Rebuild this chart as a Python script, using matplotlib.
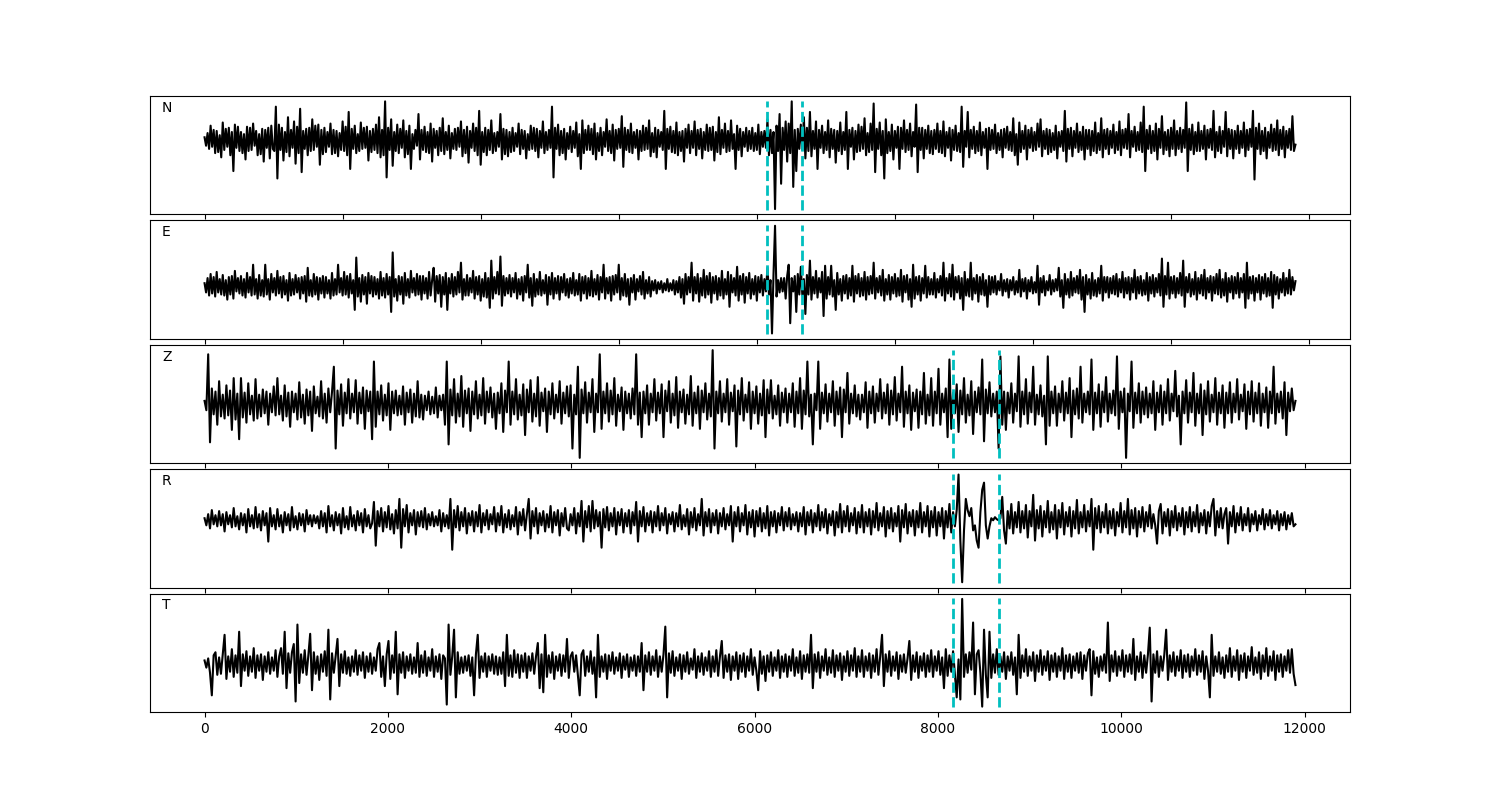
import numpy as np
import matplotlib
matplotlib.use("Agg")
import matplotlib.pyplot as plt

# channel names and record lengths (samples)
channels = ["N", "E", "Z", "R", "T"]
npts = [15800, 15800, 11900, 11900, 11900]

# picked arrivals (sample index)
picks_ne = [8150, 8655]
picks_zrt = [8160, 8665]

# traces (decimated, arbitrary amplitude units)
n_trace = [
    3, -5, 7, -8, 14, -6, 10, -12, 9, -11, 5, -16, 17, -9, 11, -6, 12, -14, 8, -29, 15, -7, 13, -10, 8, -12, 6, -18, 13, -10, 12, -9, 16, -5, 9, -14, 6, -13, 11, -20,
    10, -7, 12, -17, 14, -8, -10, 32, -36, 15, -9, 12, -19, 8, -11, 22, -15, 10, -7, 18, -22, 13, -12, 30, -30, 9, -8, 11, -14, 12, -10, 20, -9, 14, -6, 15, -23, 10, -13, 12,
    -11, 8, -6, 16, -13, 10, -12, 9, -15, 7, -9, 18, -10, 13, -14, 27, -27, 11, -8, 14, -12, 6, -10, 17, -8, 12, -7, 13, -19, 9, -11, 11, -9, 15, -12, 22, -16, 10, -14, 37,
    -35, 12, -9, 20, -24, 8, -10, 15, -12, 11, -7, 19, -16, 9, -13, 14, -27, 6, -8, 10, -5, 25, -18, 10, -9, 13, -11, 8, -12, 16, -20, 11, -7, 9, -14, 12, -10, 21, -13, 8,
    -9, 14, -17, 7, -8, 11, -9, 12, -6, 18, -15, 10, -12, 13, -21, 9, -7, 16, -10, 12, -14, 28, -23, 8, -11, 12, -14, 10, -9, 19, -12, 7, -10, 8, -6, 25, -18, 11, -13, 10,
    -15, 8, -11, 12, -10, 7, -6, 16, -13, 10, -8, 9, -17, 6, -9, 14, -8, 12, -10, 11, -16, 9, -7, 18, -12, 8, -9, 10, -7, 32, -35, 12, -8, 15, -14, 9, -12, 11, -18, 7,
    -8, 13, -11, 9, -7, 17, -15, 6, -27, 19, -12, 10, -9, 14, -9, 11, -13, 16, -18, 7, -10, 12, -14, 8, -6, 20, -10, 9, -12, 15, -19, 10, -8, 11, -7, 23, -25, 12, -9, 10,
    -11, 16, -12, 8, -7, 10, -18, 9, -10, 14, -9, 12, -8, 19, -15, 7, -11, 12, -16, 10, -6, 8, -9, 28, -27, 11, -8, 13, -11, 9, -12, 17, -14, 8, -10, 9, -20, 11, -7, 15,
    -12, 9, -7, 18, -14, 10, -8, 11, -17, 8, -9, 15, -10, 12, -9, 13, -19, 8, -11, 22, -13, 10, -7, 16, -11, 9, -10, 19, -8, 6, -27, 14, -9, 11, -15, 8, -6, 12, -10, 9,
    -8, 12, -10, 7, -9, 15, -13, 8, -6, 9, -7, 20, -14, 10, -12, 8, -65, 14, -10, 25, -41, 12, -9, 18, -20, 16, -12, 37, -44, 10, -29, 11, -8, 15, -9, 22, -17, 12, -10, 27,
    -15, 9, -8, 18, -27, 10, -7, 14, -12, 8, -9, 19, -16, 11, -8, 10, -21, 9, -10, 17, -13, 8, -9, 27, -27, 10, -6, 12, -18, 9, -11, 15, -10, 13, -8, 21, -14, 7, -11, 16,
    -9, 35, -30, 11, -8, 17, -14, 9, -36, 20, -12, 8, -10, 15, -18, 9, -7, 13, -27, 12, -8, 19, -11, 10, -9, 16, -15, 8, -6, 34, -30, 12, -9, 12, -17, 10, -8, 14, -12, 9,
    -13, 10, -8, 16, -11, 9, -12, 18, -15, 8, -7, 12, -19, 10, -9, 14, -10, 7, -11, 32, -25, 9, -6, 27, -16, 10, -8, 13, -12, 9, -10, 17, -14, 8, -7, 11, -27, 12, -9, 10,
    -8, 15, -12, 7, -9, 10, -16, 11, -7, 13, -9, 8, -10, 21, -14, 6, -23, 17, -11, 9, -8, 14, -18, 10, -7, 12, -10, 8, -9, 16, -6, 20, -15, 9, -8, 11, -13, 10, -11, 7,
    -9, 14, -17, 8, -6, 9, -10, 28, -20, 11, -8, 12, -15, 9, -7, 16, -11, 8, -9, 13, -18, 10, -8, 10, -14, 9, -10, 17, -12, 7, -9, 21, -16, 10, -8, 11, -13, 9, -7, 15,
    -12, 8, -9, 18, -14, 10, -7, 11, -8, 25, -16, 9, -6, 13, -10, 8, -9, 17, -11, 32, -29, 10, -8, 14, -12, 9, -10, 16, -18, 11, -7, 23, -13, 8, -9, 10, -15, 12, -8, 19,
    -14, 9, -8, 12, -11, 10, -7, 36, -29, 11, -9, 15, -13, 8, -10, 17, -10, 9, -8, 14, -18, 10, -7, 11, -9, 28, -16, 8, -10, 13, -12, 9, -6, 27, -15, 11, -8, 10, -17, 9,
    -8, 14, -12, 9, -7, 17, -15, 10, -9, 11, -6, 28, -37, 12, -8, 16, -13, 9, -10, 12, -17, 8, -7, 15, -10, 11, -9, 19, -14, 10, -8, 13, -16, 9, -7, 11, -9, 23, -10, -4,
]

e_trace = [
    3, -6, 8, -9, 12, -7, 9, -10, 14, -6, 7, -8, 11, -9, 6, -13, 9, -8, 10, -12, 15, -5, 8, -7, 10, -9, 7, -11, 13, -6, 9, -9, 21, -8, 7, -12, 11, -9, 6, -10,
    21, -8, 7, -13, 12, -6, 8, -9, 15, -7, 9, -11, 10, -8, 6, -14, 13, -9, 7, -8, 11, -6, 8, -12, 9, -7, 10, -15, 18, -9, 6, -10, 12, -8, 9, -13, 8, -7, 10, -11,
    9, -7, 6, -12, 13, -9, 7, -8, 21, -6, 8, -9, 14, -8, 10, -11, 12, -7, 6, -23, 28, -10, 8, -15, 11, -8, 9, -17, 13, -7, 10, -10, 9, -8, 7, -12, 14, -9, 8, -11,
    12, -8, 9, -25, 33, -10, 7, -14, 10, -8, 9, -17, 13, -9, 7, -11, 15, -6, 8, -9, 12, -8, 10, -13, 10, -7, 8, -12, 14, -9, 6, 18, -15, 10, -7, 11, -20, 9, -8, 13,
    -23, 8, -7, 12, -10, 9, -8, 14, -6, 23, -13, 7, -9, 11, -9, 8, -6, 15, -12, 9, -8, 10, -14, 7, -10, 13, -11, 8, -21, 25, -12, 9, -7, 14, -8, 29, -19, 10, -9, 8,
    -7, 11, -10, 8, -6, 13, -12, 7, -8, 9, -14, 10, -6, 21, -11, 8, -19, 12, -10, 7, -8, 14, -9, 6, -7, 11, -18, 9, -8, 13, -12, 8, -7, 10, -13, 9, -6, 12, -9, 7,
    -11, 8, -7, 13, -9, 6, -8, 12, -14, 9, -7, 10, -12, 8, -9, 15, -10, 7, -8, 11, -13, 9, -6, 21, -12, 8, -7, 9, -14, 10, -8, 11, -6, 21, -13, 8, -9, 12, -10, 7,
    -18, 8, -6, 11, -13, 7, -5, 10, -8, 14, -12, 6, -7, 9, -10, 5, -4, 6, -7, 4, -3, 5, -6, 3, -4, 7, -5, 3, -4, 6, -8, 5, -6, 9, -11, 7, -17, 12, -8, 9,
    -6, 23, -14, 9, -7, 12, -15, 8, -9, 16, -11, 10, -8, 13, -16, 9, -7, 10, -13, 8, -9, 15, -12, 7, -8, 14, -20, 11, -6, 8, -9, 19, -14, 10, -8, 12, -16, 9, -7, 13,
    -12, 7, -8, 10, -14, 9, -6, 11, -9, 7, -5, 18, -8, 6, -46, 12, 59, -10, 6, -6, 8, -5, 8, -12, 10, 21, -36, 8, -5, 10, -25, 12, -8, 19, -9, 7, -27, 11, -8, 25,
    -13, 9, -7, 15, -11, 8, -6, 14, -29, 20, -12, 9, -8, 20, -10, 6, -23, 13, -8, 7, -14, 10, -7, 11, -12, 8, -9, 20, -15, 10, -7, 12, -10, 8, -9, 14, -13, 9, -8, 10,
    -7, 23, -12, 8, -6, 10, -9, 16, -14, 7, -8, 11, -13, 9, -7, 12, -10, 8, -9, 16, -15, 10, -6, 11, -13, 7, -20, 21, -12, 9, -8, 10, -14, 8, -7, 20, -11, 9, -8, 7,
    -8, 13, -11, 7, -6, 10, -9, 23, -14, 8, -7, 12, -10, 21, -13, 9, -6, 10, -12, 8, -23, 14, -9, 7, -10, 23, -13, 8, -7, 11, -15, 9, -8, 12, -9, 6, -20, 10, -8, 9,
    -6, 10, -8, 5, -4, 12, -9, 6, -5, 7, -11, 6, -4, 9, -8, 5, -6, 16, -10, 7, -5, 8, -12, 6, -5, 9, -7, 4, -6, 20, -18, 8, -6, 10, -9, 5, -4, 11, -8, 6,
    -5, 7, -4, 18, -10, 6, -21, 12, -8, 7, -11, 14, -9, 8, -6, 10, -7, 16, -13, 9, -25, 11, -8, 7, -12, 13, -9, 6, -10, 8, -7, 20, -14, 9, -6, 9, -11, 8, -7, 10,
    -8, 12, -10, 7, -6, 14, -11, 8, -7, 9, -13, 8, -6, 16, -12, 9, -7, 10, -9, 6, -8, 13, -14, 9, -7, 11, -10, 8, -6, 12, -9, 27, -20, 10, -8, 23, -12, 9, -7, 10,
    -11, 8, -7, 13, -9, 25, -20, 9, -6, 12, -10, 7, -8, 14, -13, 8, -7, 11, -9, 16, -12, 8, -6, 10, -14, 9, -7, 12, -8, 16, -11, 7, -9, 13, -15, 8, -6, 10, -12, 9,
    -7, 13, -11, 8, -6, 12, -21, 23, -12, 9, -7, 10, -14, 8, -6, 11, -13, 9, -7, 12, -10, 8, -9, 14, -21, 11, -8, 9, -12, 7, -6, 13, -9, 8, -7, 16, -8, 9, -4, 5,
]

z_trace = [
    3, -6, 48, -37, 15, -10, 12, -20, 22, -12, 9, -14, 18, -11, 13, -25, 25, -15, 10, -34, 25, -13, 11, -18, 20, -10, 8, -16, 24, -14, 9, -12, 14, -9, 12, -20, 10, -8, 17, -11,
    25, -10, 8, -16, 18, -12, 11, -22, 12, -8, 10, -15, 21, -13, 9, -19, 14, -11, 12, -26, 17, -9, 7, -12, 22, -14, 10, -18, 15, -8, 12, 36, -43, 13, -10, 19, -21, 11, -9, 24,
    -14, 10, -8, 23, -19, 11, -9, 16, -24, 13, -7, 12, -34, 41, -22, 12, -10, 18, -16, 9, -11, 20, -25, 12, -9, 13, -11, 8, -10, 17, -20, 11, -8, 14, -18, 10, -12, 22, -13, 9,
    -15, 8, -6, 12, -10, 7, -9, 16, -13, 8, -6, 9, -20, 41, -39, 14, -11, 24, -18, 10, -12, 27, -22, 13, -9, 15, -26, 12, -10, 22, -14, 9, -11, 25, -19, 12, -8, 16, -13, 10,
    -24, 11, -9, 20, -27, 13, -8, 41, -20, 12, -10, 24, -15, 9, -11, 19, -30, 14, -8, 23, -17, 10, -12, 26, -21, 11, -7, 15, -27, 12, -10, 20, -14, 9, -8, 22, -19, 11, -9, 17,
    -12, 18, -43, 9, -10, 36, -52, 14, -9, 21, -18, 11, -8, 24, -27, 10, -8, 48, -24, 12, -9, 20, -17, 13, -10, 25, -21, 9, -7, 16, -25, 12, -9, 10, -14, 15, -10, 48, -20, 11,
    -32, 12, -9, 18, -20, 10, -8, 24, -16, 11, -9, 19, -32, 13, -7, 22, -18, 10, -11, 26, -23, 12, -8, 14, -19, 9, -10, 27, -21, 11, -9, 17, -24, 13, -8, 20, -15, 10, -12, 52,
    -43, 12, -9, 22, -17, 10, -8, 24, -20, 11, -7, 18, -41, 13, -10, 25, -16, 9, -8, 21, -24, 12, -9, 17, -19, 10, -11, 23, -32, 14, -9, 23, -14, 8, -10, 18, -21, 11, -8, 15,
    -18, 10, -8, 20, -22, 12, -9, 25, -24, 13, -10, 41, -12, 9, -39, 10, -6, 41, -24, 11, -9, 19, -17, 10, -8, 22, -21, 12, -10, 16, -32, 14, -8, 30, -19, 10, -9, 18, -12, 9,
    -15, 9, -8, 21, -23, 12, -9, 17, -18, 10, -7, 24, -14, 11, -9, 19, -20, 13, -10, 26, -16, 10, -8, 36, -22, 12, -9, 18, -25, 11, -7, 14, -23, 12, -10, 30, -19, 9, -11, 25,
    -21, 12, -9, 34, -20, 10, -8, 15, -32, 43, -24, 11, -9, 19, -27, 13, -10, 25, -18, 9, -11, 22, -29, 12, -8, 16, -10, 43, -36, 14, -9, 21, -12, 10, -8, 12, -43, 46, -20, 12,
    -25, 11, -9, 20, -18, 10, -7, 46, -22, 12, -10, 24, -19, 11, -8, 36, -20, 9, -10, 18, -12, 8, -39, 46, -21, 12, -9, 17, -21, 10, -8, 22, -16, 11, -9, 25, -32, 13, -10, 15,
    -14, 36, -18, 10, -8, 12, -10, 43, -25, 11, -9, 19, -22, 12, -8, 26, -17, 10, -9, 13, -11, 46, -24, 12, -8, 15, -52, 10, -7, 41, -23, 11, -9, 20, -18, 12, -10, 16, -13, 10,
    -9, 22, -25, 11, -8, 18, -20, 12, -9, 24, -16, 10, -7, 32, -12, 8, -39, 12, -9, 23, -18, 11, -8, 30, -21, 10, -9, 19, -30, 13, -10, 22, -17, 9, -8, 25, -20, 11, -9, 18,
    -23, 11, -9, 21, -18, 10, -8, 24, -15, 9, -7, 19, -24, 12, -10, 22, -17, 11, -9, 20, -21, 10, -8, 16, -23, 12, -9, 36, -19, 10, -8, 12, -14, 21, -30, 11, -7, 15, -6, 3,
]

r_trace = [
    2, -5, 6, -8, 10, -4, 5, -6, 9, -5, 6, -11, 8, -4, 5, -7, 12, -6, 4, -9, 7, -5, 6, -12, 11, -6, 5, -8, 13, -7, 6, -10, 9, -5, 7, -21, 12, -6, 5, -9,
    11, -6, 5, -12, 8, -5, 6, -10, 13, -7, 4, -9, 7, -5, 6, -11, 10, -4, 5, -6, 5, -3, 4, -8, 9, -6, 7, -12, 14, -6, 5, -10, 8, -5, 6, -13, 12, -7, 4, -9,
    13, -6, 5, -10, 9, -5, 7, -12, 11, -6, 5, -8, -3, 18, -25, 9, -6, 12, -11, 8, -7, 14, -9, 6, -13, 10, -8, 21, -27, 11, -6, 15, -12, 7, -5, 10, -14, 8, -6, 9,
    -7, 12, -9, 6, -5, 8, -6, 4, -5, 10, -11, 7, -6, 5, -8, 21, -29, 10, -7, 14, -10, 8, -6, 12, -13, 7, -5, 9, -11, 8, -6, 15, -12, 7, -5, 10, -9, 6, -4, 13,
    -11, 7, -5, 14, -12, 6, -7, 10, -9, 5, -6, 13, -14, 8, -5, 11, -10, 6, 21, -18, 9, -6, 12, -13, 7, -5, 9, -11, 6, -7, 14, -12, 8, -5, 10, -15, 7, -6, 12, -8,
    -10, 6, -5, 12, -13, 7, -6, 19, -21, 9, -7, 14, -11, 19, -8, 10, -6, 8, -27, 11, -7, 13, -10, 7, -6, 12, -14, 8, -5, 11, -12, 7, -6, 10, -13, 8, -5, 18, -21, 9,
    -6, 13, -11, 7, -5, 9, -12, 8, -6, 14, -10, 7, -5, 12, -13, 6, -4, 8, -11, 7, -6, 15, -9, 5, -6, 11, -14, 8, -7, 12, -10, 6, -5, 21, -15, 8, -6, 11, -12, 7,
    -5, 10, -13, 7, -6, 12, -9, 6, -5, 14, -21, 8, -6, 13, -11, 7, -5, 15, -14, 8, -7, 10, -16, 9, -6, 12, -11, 7, -8, 14, -15, 8, -6, 9, -12, 7, -5, 13, -10, 8,
    -6, 12, -9, 6, -5, 8, -11, 7, -6, 13, -14, 8, -5, 10, -12, 7, -6, 15, -10, 8, -7, 11, -13, 6, -5, 9, -15, 8, -7, 16, -12, 9, -6, 14, -11, 7, -5, 12, -13, 8,
    -7, 15, -12, 8, -6, 11, -14, 9, -7, 17, -10, 7, -6, 13, -16, 9, -8, 12, -11, 7, -6, 14, -21, 10, -7, 16, -13, 8, -6, 10, -15, 9, -7, 17, -12, 8, -6, 14, -16, 9,
    -7, 13, -15, 8, -6, 12, -18, 9, -7, 16, -12, 8, -6, 10, 45, -20, -61, -10, 21, 10, 4, 12, -10, -5, -20, -27, 8, 30, 37, -5, -18, -6, 2, 0, 3, 1, 0, 2, 23, -10,
    -23, 9, -8, 16, -13, 8, -7, 18, -12, 9, -8, 15, -17, 9, -6, 25, -20, 10, -8, 14, -16, 9, -7, 19, -12, 8, -9, 15, -18, 10, -7, 17, -14, 8, -6, 13, -16, 9, -8, 20,
    -13, 8, -7, 15, -11, 9, -6, 21, -29, 12, -8, 14, -12, 8, -7, 16, -13, 9, -8, 11, -15, 8, -6, 17, -12, 9, -7, 21, -14, 10, -8, 12, -16, 9, -7, 13, -11, 8, -6, 15,
    -8, 6, -5, -23, 9, 16, -13, 8, -6, 11, -15, 9, -7, 14, -10, 7, -6, 12, -14, 8, -7, 13, -11, 8, -6, 15, -12, 7, -5, 10, -13, 8, -6, 14, 21, -15, 9, -7, 12, -8,
    6, 12, -23, 8, -6, 14, -12, 7, -5, 13, -10, 6, -5, 12, -11, 6, -4, 9, -10, 5, -4, 11, -9, 6, -5, 10, -8, 5, -4, 9, -10, 6, -5, 8, -9, 5, -4, 7, -6, -4,
]

t_trace = [
    4, -3, 6, -8, -30, 9, 12, -10, 7, -9, 10, 29, -14, 8, -7, 15, -12, 9, -8, 32, -21, 10, -6, 13, -11, 8, -7, 16, -13, 9, -6, 10, -15, 8, -7, 12, -9, 7, -6, 14,
    -12, 8, 16, -9, 32, -23, 11, -8, 12, 20, -36, 39, -18, 10, -8, 14, -10, 9, 30, -25, 12, -9, 8, -15, 10, -7, 13, -11, 34, -34, 11, -8, 9, 25, -21, 10, -8, 13, -9, 7,
    -11, 8, -7, 14, -10, 9, -6, 12, -13, 8, -7, 11, -9, 7, -6, 15, 21, -12, 8, -21, 10, 23, -14, 9, -8, 32, -29, 10, -8, 12, -13, 8, -6, 10, -9, 7, -8, 21, -12, 9,
    -8, 13, -11, 7, -6, 15, -12, 8, -7, 10, -14, 9, 6, -39, 39, -10, 8, 34, -32, 12, -9, 7, -8, 8, -6, 9, -11, 7, -30, 10, 29, -13, 8, -7, 11, -12, 8, -6, 10, -9,
    8, -10, 7, -9, 12, -21, 29, -11, 9, -12, 14, -8, 10, -13, 9, -7, 11, -13, 8, -6, 11, -9, 8, 21, -23, 10, -27, 29, -12, 9, -8, 12, -14, 8, -6, 10, -11, 9, -7, 25,
    -13, 8, 12, -7, 9, -10, -30, 10, 14, -11, 8, -7, 13, -9, 7, -32, 29, -12, 8, -7, 10, -14, 9, -6, 12, -9, 7, -6, 11, -13, 8, -5, 10, -12, 7, -6, 9, -11, 8, -7,
    21, -25, 9, -7, 12, -10, 8, -6, 14, -12, 8, -7, 10, 37, -32, 11, -8, 13, -11, 7, -6, 10, -14, 9, -7, 12, -9, 6, -5, 15, -13, 8, -7, 11, -10, 7, -6, 13, -12, 8,
    -7, 14, -11, 8, 23, -13, 9, -7, 10, -15, 8, -6, 12, -14, 9, -7, 11, -12, 8, -6, 15, -10, 7, -6, -25, 13, -9, 8, -16, 9, -7, 12, -11, 7, -6, 14, -13, 8, -7, 10,
    -12, 8, -6, 15, -11, 7, -8, 13, -14, 9, -7, 10, -8, 29, -23, 10, -7, 12, -13, 8, -6, 15, -10, 7, -8, 14, -12, 9, -6, 11, -15, 8, -7, 13, -11, 9, -6, 16, -12, 8,
    -7, 14, -12, 8, -6, 11, -13, 9, -7, 15, -10, 8, 29, -21, 10, -7, 13, -11, 8, -6, 12, -14, 9, -7, 10, -8, 6, 23, -15, 9, -7, 12, -13, 8, -6, 11, -12, 9, -7, 14,
    -12, 8, -6, 13, -10, 7, -23, 15, -11, 9, -7, 13, -9, -32, 5, -34, 64, -12, 10, -8, 12, -5, 41, -29, 10, 14, -8, -41, 34, -10, -32, 32, -13, 10, -8, 15, -10, 8, -7, 12,
    -14, 8, -6, 12, -10, 7, -29, 29, -13, 9, -7, 15, -11, 8, -6, 12, -16, 9, -7, 14, -10, 8, -6, 13, -15, 9, -7, 11, -12, 8, -6, 16, -14, 9, -7, 10, -13, 8, -6, 11,
    -8, 12, -14, 9, -6, 11, 15, -30, 13, -9, 7, -12, 8, -6, 10, -8, 41, -16, 9, -7, 13, -11, 8, -6, 14, -12, 9, -7, 10, -9, 25, -15, 8, -7, 12, -13, 9, -8, 10, 36,
    -36, 10, -8, 13, -12, 8, -6, 10, 34, -15, 9, -7, 12, -11, 8, -6, 14, -13, 9, -7, 10, -12, 8, -6, 15, -10, 9, -7, 13, -14, 8, -6, -32, 29, -11, 8, -7, 12, -9, 7,
    -13, 9, -7, 16, -12, 8, -6, 14, -15, 9, -7, 11, -13, 8, -6, 17, -10, 7, -8, 12, -14, 9, -7, 16, -11, 8, -6, 13, -15, 9, -7, 10, -12, 8, -6, 14, -8, 15, -9, -20,
]

traces = [n_trace, e_trace, z_trace, r_trace, t_trace]
picks = [picks_ne, picks_ne, picks_zrt, picks_zrt, picks_zrt]

fig, axes = plt.subplots(5, 1, figsize=(15, 8))
fig.subplots_adjust(left=0.1, right=0.9, top=0.88, bottom=0.11, hspace=0.05)

for i, ax in enumerate(axes):
    data = np.array(traces[i], dtype=float)
    x = np.linspace(0, npts[i] - 1, len(data))
    ax.plot(x, data, color="k", lw=1.5)
    for p in picks[i]:
        ax.axvline(p, ymin=0.04, ymax=0.96, color="c", ls="--", lw=2)
    ax.text(0.01, 0.9, channels[i], transform=ax.transAxes, va="center")
    ax.set_yticks([])
    if i < len(axes) - 1:
        ax.tick_params(labelbottom=False)

fig.savefig("out.png", dpi=100)
